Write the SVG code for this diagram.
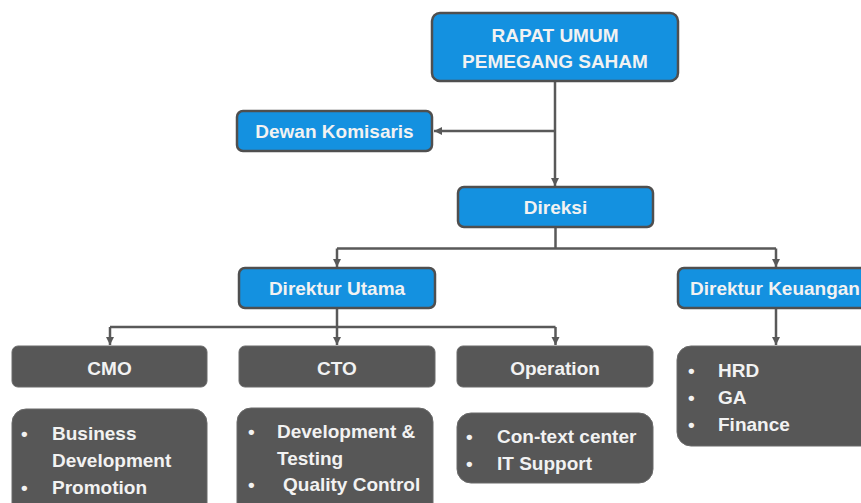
<svg xmlns="http://www.w3.org/2000/svg" width="861" height="503" viewBox="0 0 861 503">
<defs>
<marker id="arr" markerUnits="userSpaceOnUse" markerWidth="9" markerHeight="9" refX="8" refY="4" orient="auto">
<path d="M0,0 L8,4 L0,8 z" fill="#595959"/>
</marker>
<style>
.blue{fill:#1491E0;stroke:#4F4F4F;stroke-width:2.5}
.gray{fill:#575757;stroke:#6A6A6A;stroke-width:1}
.t{font-family:"Liberation Sans",Arial,sans-serif;font-weight:bold;font-size:19px;fill:#F2F2F2}
.c{text-anchor:middle}
.ln{fill:none;stroke:#595959;stroke-width:2.5}
</style>
</defs>
<rect width="861" height="503" fill="#FFFFFF"/>
<g id="connectors">
<path class="ln" d="M555,82 V186" marker-end="url(#arr)"/>
<path class="ln" d="M555,131 H434" marker-end="url(#arr)"/>
<path class="ln" d="M555.5,228 V248.5"/>
<path class="ln" d="M337,248.5 H776"/>
<path class="ln" d="M337,248.5 V267" marker-end="url(#arr)"/>
<path class="ln" d="M776,248.5 V267" marker-end="url(#arr)"/>
<path class="ln" d="M337,309 V345" marker-end="url(#arr)"/>
<path class="ln" d="M110,327 H555.5"/>
<path class="ln" d="M110,327 V345" marker-end="url(#arr)"/>
<path class="ln" d="M555.5,327 V345" marker-end="url(#arr)"/>
<path class="ln" d="M776,309 V345" marker-end="url(#arr)"/>
</g>
<g id="rups">
<rect class="blue" x="432" y="13" width="246" height="68" rx="8"/>
<text class="t c" x="555" y="42">RAPAT UMUM</text>
<text class="t c" x="555" y="68">PEMEGANG SAHAM</text>
</g>
<g id="dewan">
<rect class="blue" x="237" y="111" width="195" height="40" rx="6"/>
<text class="t c" x="334.5" y="138">Dewan Komisaris</text>
</g>
<g id="direksi">
<rect class="blue" x="458" y="187" width="195" height="40" rx="6"/>
<text class="t c" x="555.5" y="213.5">Direksi</text>
</g>
<g id="direktur-utama">
<rect class="blue" x="239" y="268" width="196" height="40" rx="6"/>
<text class="t c" x="337" y="295">Direktur Utama</text>
</g>
<g id="direktur-keuangan">
<rect class="blue" x="678" y="268" width="200" height="40" rx="6"/>
<text class="t" x="690" y="295">Direktur Keuangan</text>
</g>
<g id="cmo">
<rect class="gray" x="12" y="346" width="195" height="41" rx="6"/>
<text class="t c" x="109.5" y="375">CMO</text>
</g>
<g id="cto">
<rect class="gray" x="239" y="346" width="196" height="41" rx="6"/>
<text class="t c" x="337" y="375">CTO</text>
</g>
<g id="operation">
<rect class="gray" x="457" y="346" width="196" height="41" rx="6"/>
<text class="t c" x="555" y="375">Operation</text>
</g>
<g id="cmo-list">
<rect class="gray" x="12" y="409" width="195" height="110" rx="14"/>
<text class="t" x="21" y="440">•</text>
<text class="t" x="52" y="440">Business</text>
<text class="t" x="52" y="467">Development</text>
<text class="t" x="21" y="494">•</text>
<text class="t" x="52" y="494">Promotion</text>
</g>
<g id="cto-list">
<rect class="gray" x="237" y="408" width="196" height="110" rx="14"/>
<text class="t" x="248" y="438">•</text>
<text class="t" x="277" y="438">Development &amp;</text>
<text class="t" x="277" y="465">Testing</text>
<text class="t" x="248" y="491">•</text>
<text class="t" x="283" y="491">Quality Control</text>
</g>
<g id="operation-list">
<rect class="gray" x="457" y="413" width="196" height="70" rx="14"/>
<text class="t" x="466" y="443">•</text>
<text class="t" x="497" y="443">Con-text center</text>
<text class="t" x="466" y="470">•</text>
<text class="t" x="497" y="470">IT Support</text>
</g>
<g id="keuangan-list">
<rect class="gray" x="677" y="346" width="200" height="100" rx="14"/>
<text class="t" x="688" y="377">•</text>
<text class="t" x="718" y="377">HRD</text>
<text class="t" x="688" y="404">•</text>
<text class="t" x="718" y="404">GA</text>
<text class="t" x="688" y="431">•</text>
<text class="t" x="718" y="431">Finance</text>
</g>
</svg>
